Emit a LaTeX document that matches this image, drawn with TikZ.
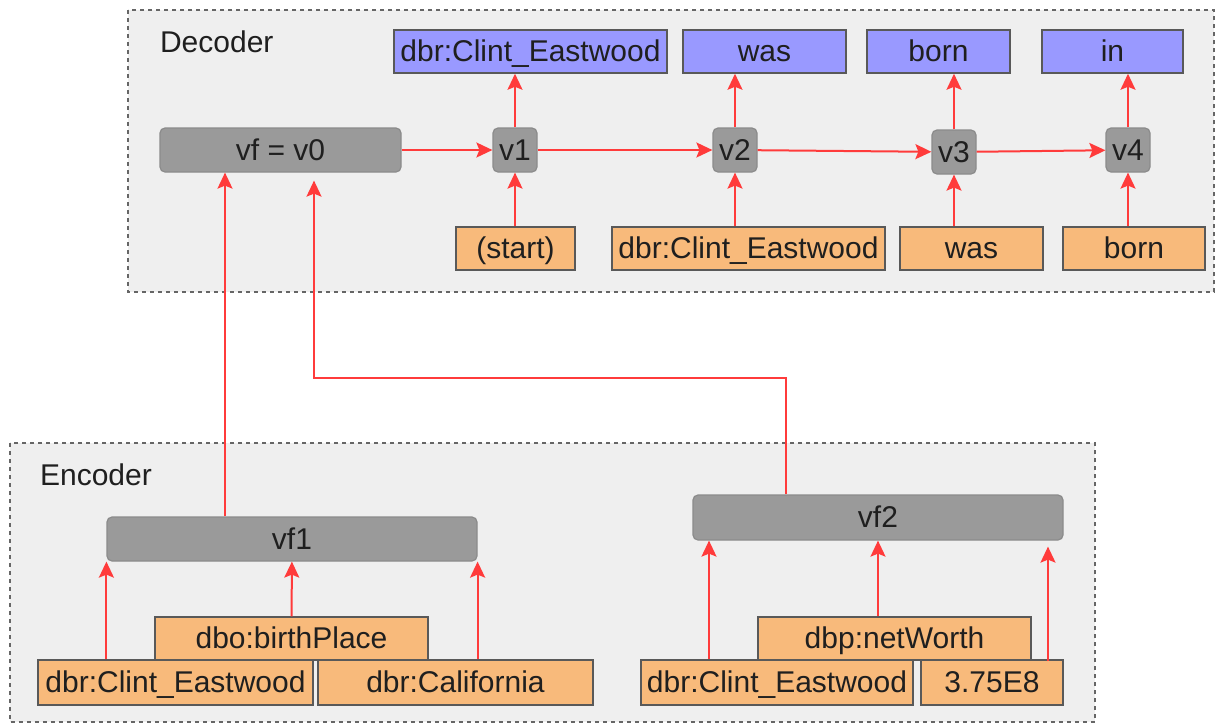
\documentclass[tikz,border=0pt]{standalone}
\usepackage{fontspec}
\setmainfont{Liberation Sans}
\usetikzlibrary{arrows.meta}
\usepackage{xcolor}
\definecolor{boxbg}{HTML}{EFEFEF}
\definecolor{outblue}{HTML}{9999FF}
\definecolor{inorange}{HTML}{F8BA7B}
\definecolor{cellgray}{HTML}{9A9A9A}
\definecolor{arrred}{HTML}{FF3B3B}

\begin{document}
\begin{tikzpicture}[x=0.5pt, y=-0.5pt,
        every node/.style={font=\fontsize{15}{18}\selectfont, text=black!88},
        word/.style={draw=black!65, line width=0.75pt, minimum height=21.5pt, inner sep=0pt, text height=11pt, text depth=1pt},
        outword/.style={word, fill=outblue},
        inword/.style={word, fill=inorange},
        cell/.style={draw=cellgray!90!black, line width=0.6pt, fill=cellgray, rounded corners=2.5pt, minimum height=22pt, inner sep=0pt, text height=11pt, text depth=1pt},
        arr/.style={draw=arrred, line width=1pt, -{Stealth[length=8pt,width=7.5pt,inset=1.5pt]}}]
        \useasboundingbox (0, 0) rectangle (1217, 725);

        % the two blocks
        \filldraw[fill=boxbg, draw=black!60, line width=0.6pt, dash pattern=on 2pt off 2pt](128, 10) rectangle (1214, 292);
        \filldraw[fill=boxbg, draw=black!60, line width=0.6pt, dash pattern=on 2pt off 2pt](10, 443) rectangle (1095, 722);
        \node[anchor=west] (declabel) at (153, 42) {Decoder};
        \node[anchor=west] (enclabel) at (33, 475) {Encoder};

        % decoder
        \node[outword, minimum width=136.5pt] (o1) at (530.5, 51.5) {dbr:Clint\_Eastwood};
        \node[outword, minimum width=81.5pt] (o2) at (764.5, 51.5) {was};
        \node[outword, minimum width=71.5pt] (o3) at (938.5, 51.5) {born};
        \node[outword, minimum width=70.5pt] (o4) at (1112.5, 51.5) {in};

        \node[cell, minimum width=120.5pt] (v0) at (280.5, 150) {vf = v0};
        \node[cell, minimum width=22pt] (v1) at (515, 150) {v1};
        \node[cell, minimum width=22pt] (v2) at (735, 150) {v2};
        \node[cell, minimum width=22pt] (v3) at (954, 152) {v3};
        \node[cell, minimum width=22pt] (v4) at (1128, 150) {v4};

        \node[inword, minimum width=59.5pt] (i1) at (515.5, 248.5) {(start)};
        \node[inword, minimum width=136.5pt] (i2) at (748.5, 248.5) {dbr:Clint\_Eastwood};
        \node[inword, minimum width=71.5pt] (i3) at (971.5, 248.5) {was};
        \node[inword, minimum width=71pt] (i4) at (1134, 248.5) {born};

        % encoder
        \node[cell, minimum width=185pt] (vf1) at (292, 539) {vf1};
        \node[cell, minimum width=185pt, minimum height=22.5pt] (vf2) at (878, 517.5) {vf2};

        \node[inword, minimum width=136.5pt] (e1) at (291.5, 638.5) {dbo:birthPlace};
        \node[inword, minimum width=137.5pt, minimum height=22.5pt] (e2) at (175.5, 682.5) {dbr:Clint\_Eastwood};
        \node[inword, minimum width=137.5pt, minimum height=22.5pt] (e3) at (455.5, 682.5) {dbr:California};
        \node[inword, minimum width=136.5pt] (e4) at (894.5, 638.5) {dbp:netWorth};
        \node[inword, minimum width=136pt, minimum height=22.5pt] (e5) at (777, 682.5) {dbr:Clint\_Eastwood};
        \node[inword, minimum width=71pt, minimum height=22.5pt] (e6) at (992, 682.5) {3.75E8};

        \coordinate (k1) at (225, 0);
        \coordinate (k2) at (709, 0);
        \coordinate (k3) at (1048, 0);
        \coordinate (bend) at (314, 378);

        \path[every edge/.style={arr}]
            (v0) edge (v1)
            (v1) edge (v2)
            (v2) edge (v3)
            (v3) edge (v4)
            (v1) edge (o1.south -| v1)
            (v2) edge (o2.south -| v2)
            (v3) edge (o3.south -| v3)
            (v4) edge (o4.south -| v4)
            (i1.north -| v1) edge (v1)
            (i2.north -| v2) edge (v2)
            (i3.north -| v3) edge (v3)
            (i4.north -| v4) edge (v4);

        \path[every edge/.style={arr}]
            (vf1.south west |- e2.north) edge (vf1.south west)
            (e1) edge (vf1)
            (vf1.south east |- e3.north) edge (vf1.south east)
            (k2 |- e5.north) edge (k2 |- vf2.south)
            (vf2.south |- e4.north) edge (vf2)
            ([yshift=-1pt]k3 |- e6.north) edge ([yshift=-3pt]k3 |- vf2.south)
            (k1 |- vf1.north) edge (k1 |- v0.south);

        \draw[arr, shorten >=4pt] (vf2.north -| 786, 0) |- (bend) -- (bend |- v0.south);

\end{tikzpicture}
\end{document}
